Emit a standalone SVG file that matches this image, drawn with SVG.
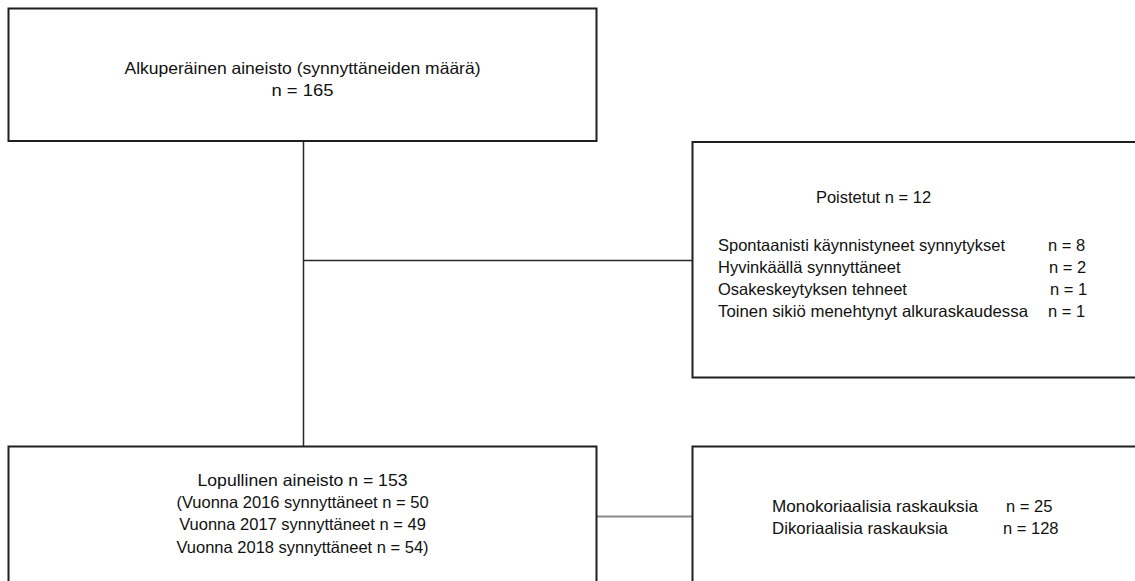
<svg xmlns="http://www.w3.org/2000/svg" width="1135" height="581" viewBox="0 0 1135 581">
<style>
.box{fill:#fff;stroke:#1f1f1f;stroke-width:2}
.ln{fill:none;stroke:#2a2a2a;stroke-width:1.5}
.ln2{fill:none;stroke:#8a8a8a;stroke-width:2}
text{font-family:"Liberation Sans",Arial,sans-serif;font-size:16.5px;fill:#111}
.c{text-anchor:middle}
</style>
<rect width="1135" height="581" fill="#fff"/>
<g id="connectors">
<line class="ln" x1="303.5" y1="141" x2="303.5" y2="446.5"/>
<line class="ln" x1="303.5" y1="260.5" x2="692.5" y2="260.5"/>
<line class="ln2" x1="596.5" y1="516.5" x2="692.5" y2="516.5"/>
</g>
<g id="original">
<rect class="box" x="8.5" y="8.5" width="588" height="132.5"/>
<text class="c" x="302.5" y="74" textLength="356" lengthAdjust="spacingAndGlyphs">Alkuperäinen aineisto (synnyttäneiden määrä)</text>
<text class="c" x="302.5" y="96" textLength="62" lengthAdjust="spacingAndGlyphs">n = 165</text>
</g>
<g id="removed">
<rect class="box" x="692.5" y="142" width="460" height="235.5"/>
<text class="c" x="873.5" y="203">Poistetut n = 12</text>
<text x="718" y="251">Spontaanisti käynnistyneet synnytykset</text>
<text x="1048" y="251">n = 8</text>
<text x="718" y="273">Hyvinkäällä synnyttäneet</text>
<text x="1049" y="273">n = 2</text>
<text x="718" y="295">Osakeskeytyksen tehneet</text>
<text x="1050" y="295">n = 1</text>
<text x="718" y="317" textLength="310" lengthAdjust="spacingAndGlyphs">Toinen sikiö menehtynyt alkuraskaudessa</text>
<text x="1048" y="317">n = 1</text>
</g>
<g id="final">
<rect class="box" x="8.5" y="446.5" width="588" height="150"/>
<text class="c" x="302.5" y="486" textLength="210" lengthAdjust="spacingAndGlyphs">Lopullinen aineisto n = 153</text>
<text class="c" x="302.5" y="508">(Vuonna 2016 synnyttäneet n = 50</text>
<text class="c" x="302.5" y="530">Vuonna 2017 synnyttäneet n = 49</text>
<text class="c" x="302.5" y="553">Vuonna 2018 synnyttäneet n = 54)</text>
</g>
<g id="chorionicity">
<rect class="box" x="692.5" y="446.5" width="460" height="150"/>
<text x="772" y="512" textLength="206" lengthAdjust="spacingAndGlyphs">Monokoriaalisia raskauksia</text>
<text x="1006" y="512">n = 25</text>
<text x="772" y="534" textLength="176" lengthAdjust="spacingAndGlyphs">Dikoriaalisia raskauksia</text>
<text x="1003" y="534">n = 128</text>
</g>
</svg>
